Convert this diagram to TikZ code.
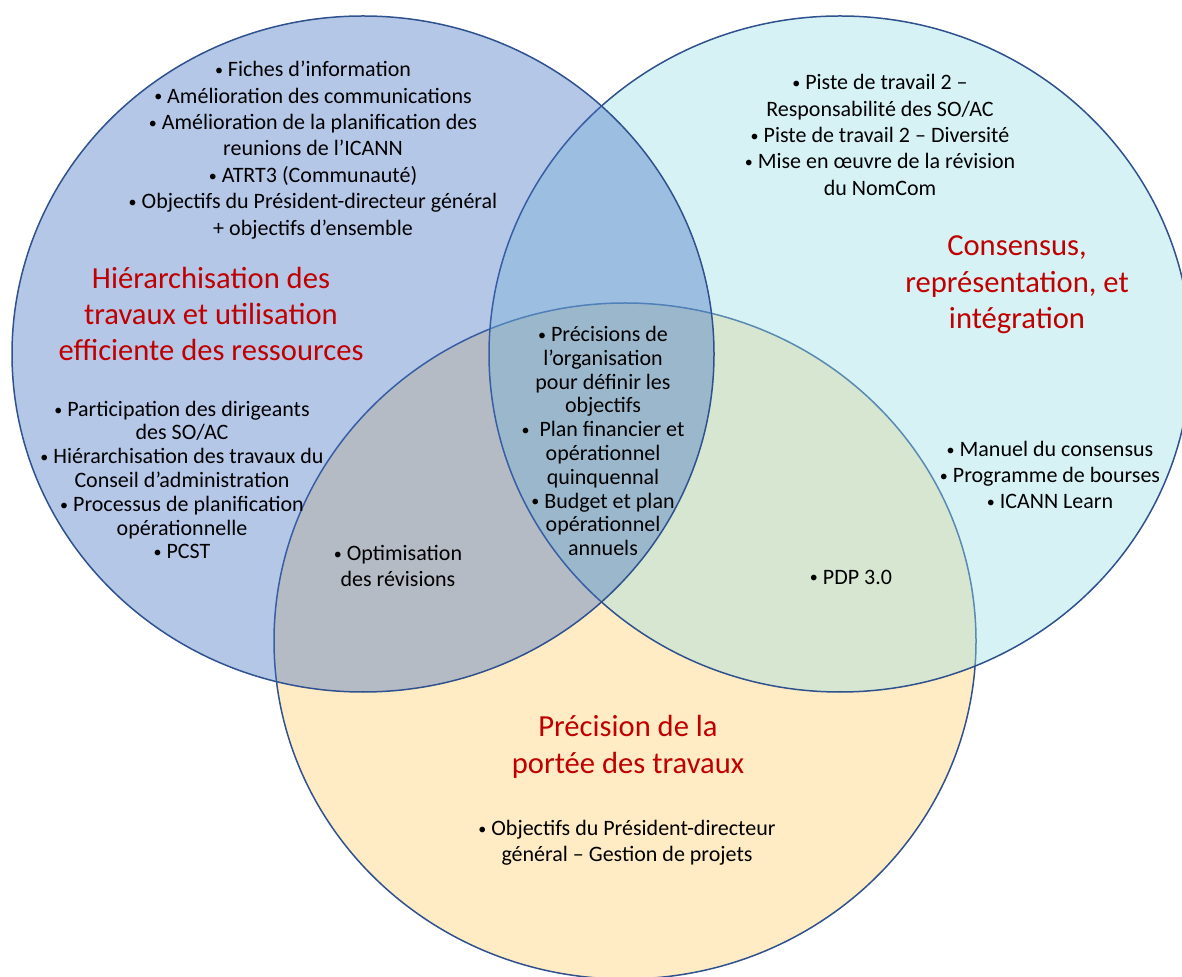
\documentclass[tikz,border=0pt]{standalone}
\usepackage{fontspec}
\setmainfont{Carlito}

\definecolor{blueset}{HTML}{4472C4}
\definecolor{cyanset}{HTML}{99DEE6}
\definecolor{goldset}{HTML}{FFCF6B}
\definecolor{rimblue}{HTML}{2F528F}
\definecolor{titlered}{HTML}{C00000}

\newcommand{\dotitem}{{\fontsize{8}{8}\selectfont\raisebox{0.15ex}{•}}}

\begin{document}
\begin{tikzpicture}[x=0.5pt, y=-0.5pt,
  setdisc/.style={draw=rimblue, line width=0.75pt, fill opacity=0.4},
  body/.style={align=center, inner sep=0pt, font=\fontsize{11}{13.2}\selectfont},
  tightbody/.style={body, font=\fontsize{11}{11.9}\selectfont},
  settitle/.style={align=center, inner sep=0pt, text=titlered, font=\fontsize{15.3}{18.2}\selectfont}]

\useasboundingbox (0,0) rectangle (1182,977);
\clip (0,0) rectangle (1182,977);

% the three sets, lowest first
\draw[setdisc, fill=goldset] (625,641) ellipse [x radius=351, y radius=338];
\draw[setdisc, fill=cyanset] (840,354) ellipse [x radius=351, y radius=338];
\draw[setdisc, fill=blueset] (363,354) ellipse [x radius=351, y radius=338];

% left set
\node[body] (ltop) at (313,150) {\dotitem{} Fiches d’information\\ \dotitem{} Amélioration des communications\\
  \dotitem{} Amélioration de la planification des\\ reunions de l’ICANN\\ \dotitem{} ATRT3 (Communauté)\\
  \dotitem{} Objectifs du Président-directeur général\\ + objectifs d’ensemble};
\node[settitle] (ltitle) at (211,314) {Hiérarchisation des\\ travaux et utilisation\\ efficiente des ressources};
\node[tightbody] (lbot) at (182,480) {\dotitem{} Participation des dirigeants\\ des SO/AC\\
  \dotitem{} Hiérarchisation des travaux du\\ Conseil d’administration\\ \dotitem{} Processus de planification\\
  opérationnelle\\ \dotitem{} PCST};

% right set
\node[body] (rtop) at (880,135) {\dotitem{} Piste de travail 2 –\\ Responsabilité des SO/AC\\
  \dotitem{} Piste de travail 2 – Diversité\\ \dotitem{} Mise en œuvre de la révision\\ du NomCom};
\node[settitle] (rtitle) at (1017,285) {Consensus,\\ représentation, et\\ intégration};
\node[body] (rbot) at (1050,475) {\dotitem{} Manuel du consensus\\ \dotitem{} Programme de bourses\\ \dotitem{} ICANN Learn};

% bottom set
\node[settitle] (btitle) at (628,747) {Précision de la\\ portée des travaux};
\node[body] (bbot) at (627,843) {\dotitem{} Objectifs du Président-directeur\\ général – Gestion de projets};

% overlaps
\node[body] (lb) at (398,566) {\dotitem{} Optimisation\\ des révisions};
\node[body] (rb) at (851,577) {\dotitem{} PDP 3.0};
\node[tightbody] (mid) at (603,441) {\dotitem{} Précisions de\\ l’organisation\\ pour définir les\\ objectifs\\
  \dotitem{} \ Plan financier et\\ opérationnel\\ quinquennal\\ \dotitem{} Budget et plan\\ opérationnel\\ annuels};

\end{tikzpicture}
\end{document}
